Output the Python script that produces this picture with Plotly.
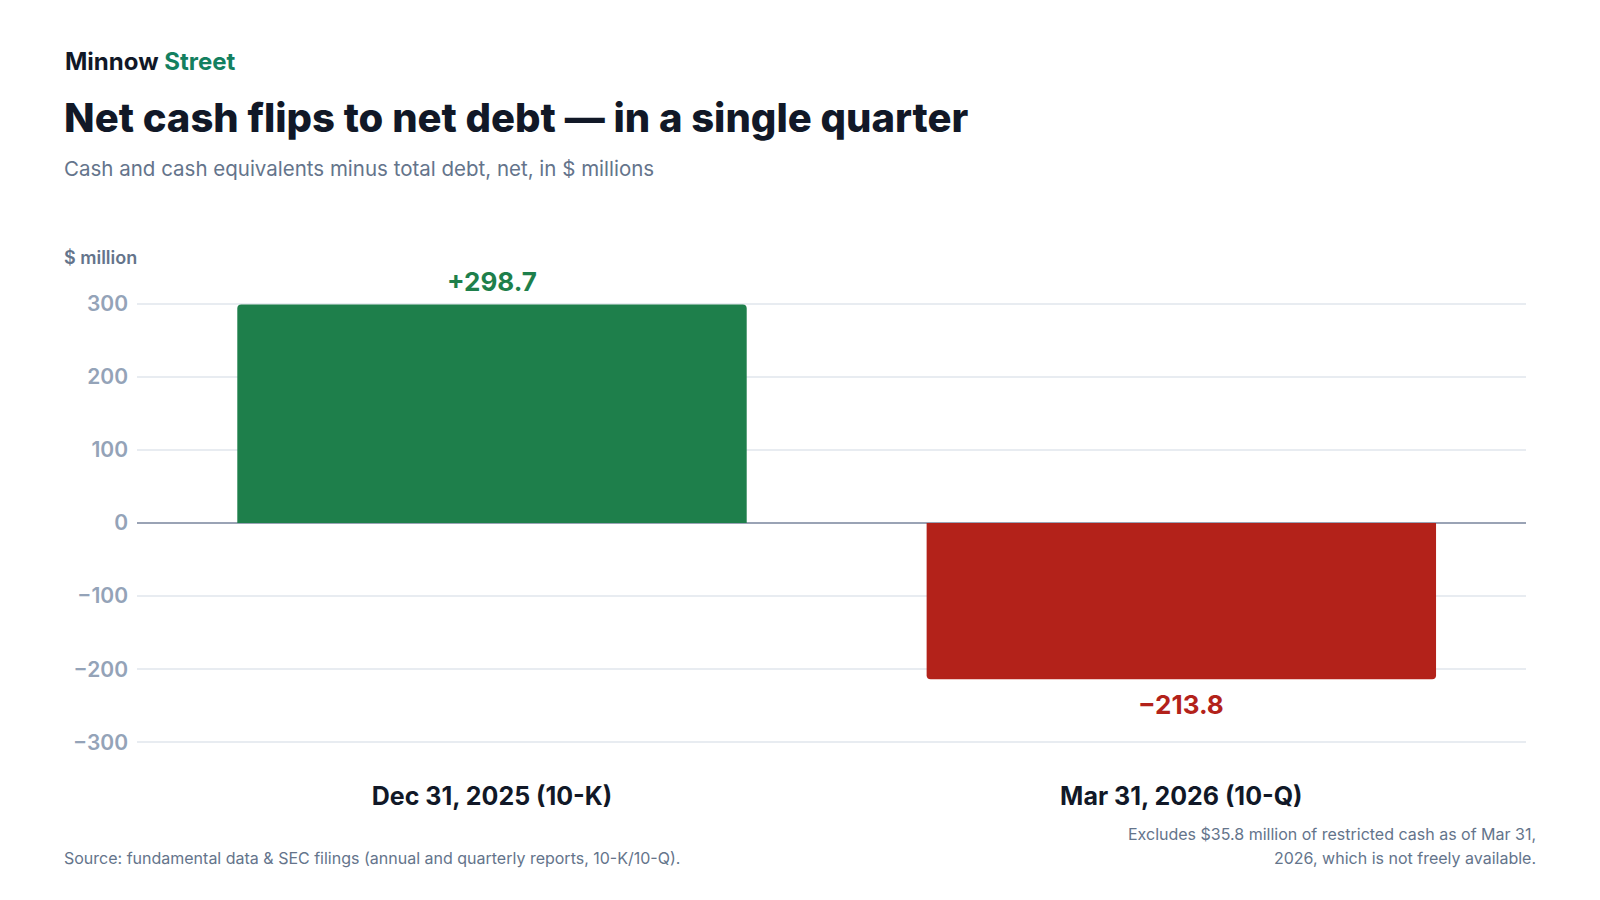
import plotly.graph_objects as go

# ---- data ----
categories = ["Dec 31, 2025 (10-K)", "Mar 31, 2026 (10-Q)"]
net_cash = [298.7, -213.8]
value_labels = ["+298.7", "\u2212213.8"]
y_ticks = [-300, -200, -100, 0, 100, 200, 300]

# ---- style ----
W, H = 1600, 900
ML, MR, MT, MB = 129, 82, 281, 151
GREEN = "#1E7F4B"
RED = "#B3221A"
DARK = "#111827"
SLATE = "#64748B"
TICK = "#94A3B8"
FONT = "Inter"

pw = W - ML - MR
ph = H - MT - MB


def px_x(x):
    return (x - ML) / pw


def px_y(y):
    return (H - MB - y) / ph


colors = [GREEN if v >= 0 else RED for v in net_cash]
xs = list(range(len(categories)))

fig = go.Figure()
fig.add_trace(go.Bar(
    x=xs, y=net_cash, width=0.739,
    marker=dict(color=colors, line=dict(width=0), cornerradius=4),
    hoverinfo="skip", showlegend=False,
))

annotations = []
for i, (v, lab) in enumerate(zip(net_cash, value_labels)):
    annotations.append(dict(
        x=i, y=v, xref="x", yref="y", text=lab, showarrow=False,
        yshift=23 if v >= 0 else -25,
        font=dict(family=FONT, size=26, color=GREEN if v >= 0 else RED, weight=700),
        xanchor="center", yanchor="middle",
    ))

annotations += [
    dict(x=px_x(55), y=px_y(54), xref="paper", yref="paper", showarrow=False,
         xanchor="left", yanchor="middle",
         text="Minnow <span style='color:#138060'>Street</span>",
         font=dict(family=FONT, size=24, color=DARK, weight=700)),
    dict(x=px_x(54), y=px_y(110), xref="paper", yref="paper", showarrow=False,
         xanchor="left", yanchor="middle",
         text="Net cash flips to net debt \u2014 in a single quarter",
         font=dict(family=FONT, size=40, color=DARK, weight=800)),
    dict(x=px_x(54), y=px_y(160), xref="paper", yref="paper", showarrow=False,
         xanchor="left", yanchor="middle",
         text="Cash and cash equivalents minus total debt, net, in $ millions",
         font=dict(family=FONT, size=20.5, color=SLATE)),
    dict(x=px_x(54), y=px_y(249), xref="paper", yref="paper", showarrow=False,
         xanchor="left", yanchor="middle",
         text="$ million",
         font=dict(family=FONT, size=18, color=SLATE, weight=600)),
    dict(x=px_x(54), y=px_y(850), xref="paper", yref="paper", showarrow=False,
         xanchor="left", yanchor="middle",
         text="Source: fundamental data & SEC filings (annual and quarterly reports, 10-K/10-Q).",
         font=dict(family=FONT, size=16, color=SLATE)),
    dict(x=px_x(1530), y=px_y(826), xref="paper", yref="paper", showarrow=False,
         xanchor="right", yanchor="middle", align="right",
         text="Excludes $35.8 million of restricted cash as of Mar 31,",
         font=dict(family=FONT, size=16, color=SLATE)),
    dict(x=px_x(1530), y=px_y(850), xref="paper", yref="paper", showarrow=False,
         xanchor="right", yanchor="middle", align="right",
         text="2026, which is not freely available.",
         font=dict(family=FONT, size=16, color=SLATE)),
]

fig.update_layout(
    width=W, height=H,
    margin=dict(l=ML, r=MR, t=MT, b=MB, autoexpand=False),
    paper_bgcolor="white", plot_bgcolor="white",
    font=dict(family=FONT),
    annotations=annotations,
    bargap=0.26,
)
fig.update_xaxes(
    range=[-0.515, 1.5], tickmode="array", tickvals=xs,
    ticktext=categories,
    tickfont=dict(family=FONT, size=25, color=DARK, weight=700),
    showgrid=False, zeroline=False, showline=False, ticks="",
    ticklabelstandoff=22, fixedrange=True,
)
fig.update_yaxes(
    range=[-320, 320], tickmode="array", tickvals=y_ticks,
    tickfont=dict(family=FONT, size=21, color=TICK, weight=600),
    showgrid=True, gridcolor="#E8ECF1", gridwidth=1.5,
    zeroline=True, zerolinecolor="#9AA3B5", zerolinewidth=2,
    showline=False, ticks="", ticklabelstandoff=8, fixedrange=True,
)

fig.write_html("out.html")
